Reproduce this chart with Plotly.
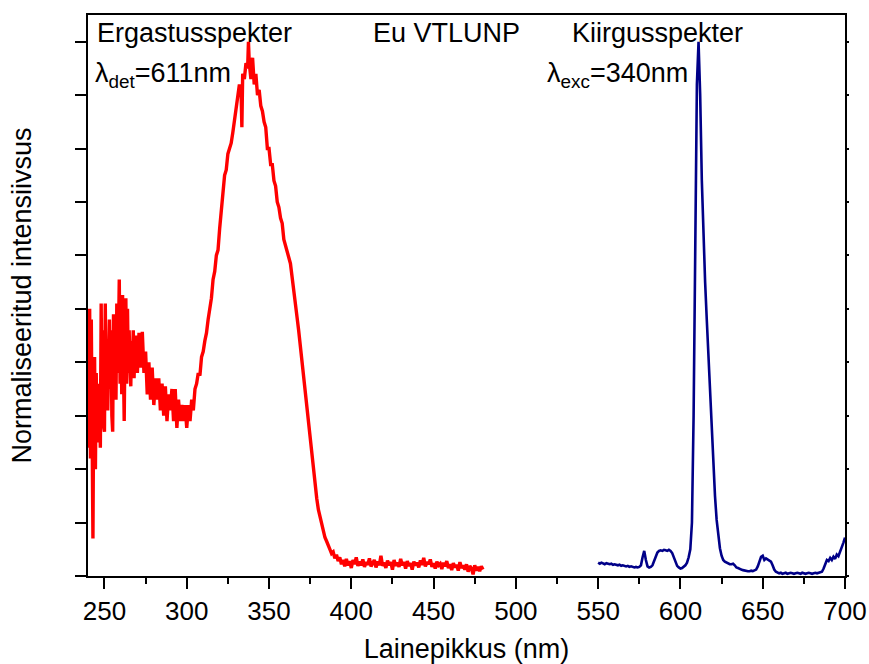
import plotly.graph_objects as go

# ---------------- data ----------------
exc_wl = [
    240.0, 240.5, 241.0, 241.5, 242.0, 242.5, 243.0, 243.5, 244.0, 244.5,
    245.0, 245.5, 246.0, 246.5, 247.0, 247.5, 248.0, 248.5, 249.0, 249.5,
    250.0, 250.5, 251.0, 251.5, 252.0, 252.5, 253.0, 253.5, 254.0, 254.5,
    255.0, 255.5, 256.0, 256.5, 257.0, 257.5, 258.0, 258.5, 259.0, 259.5,
    260.0, 260.5, 261.0, 261.5, 262.0, 262.5, 263.0, 263.5, 264.0, 264.5,
    265.0, 265.5, 266.0, 266.5, 267.0, 267.5, 268.0, 268.5, 269.0, 269.5,
    270.0,
    271, 272, 273, 274, 275, 276, 277, 278, 279, 280,
    281, 282, 283, 284, 285, 286, 287, 288, 289, 290,
    291, 292, 293, 294, 295, 296, 297, 298, 299, 300,
    301, 302, 303, 304, 305, 306, 307, 308, 309, 310,
    311, 312, 313, 314, 315, 316, 317, 318, 319, 320,
    321, 322, 323, 324, 325, 326, 327, 328, 329, 330,
    331, 332, 333, 333.5, 334, 335, 336, 337, 337.5, 338, 339, 340,
    341, 342, 343, 344, 345, 346, 347, 348, 349, 350,
    351, 352, 353, 354, 355, 356, 357, 358, 359, 360,
    361, 362, 363, 364, 365, 366, 367, 368, 369, 370,
    371, 372, 373, 374, 375, 376, 377, 378, 379, 380,
    381, 382, 383, 384, 385, 386, 387, 388, 389, 390,
    391, 392, 393, 394, 395, 396, 397, 398, 399, 400,
    401, 402, 403, 404, 405, 406, 407, 408, 409, 410,
    411, 412, 413, 414, 415, 416, 417, 418, 419, 420,
    421, 422, 423, 424, 425, 426, 427, 428, 429, 430,
    431, 432, 433, 434, 435, 436, 437, 438, 439, 440,
    441, 442, 443, 444, 445, 446, 447, 448, 449, 450,
    451, 452, 453, 454, 455, 456, 457, 458, 459, 460,
    461, 462, 463, 464, 465, 466, 467, 468, 469, 470,
    471, 472, 473, 474, 475, 476, 477, 478, 479, 480,
]
exc_int = [
    0.45, 0.24, 0.50, 0.22, 0.48, 0.30, 0.07, 0.35, 0.41, 0.20,
    0.38, 0.25, 0.36, 0.27, 0.33, 0.24, 0.51, 0.30, 0.46, 0.28,
    0.27, 0.51, 0.33, 0.44, 0.31, 0.40, 0.48, 0.35, 0.46, 0.30,
    0.27, 0.49, 0.36, 0.45, 0.33, 0.51, 0.38, 0.44, 0.555, 0.36,
    0.50, 0.34, 0.526, 0.40, 0.29, 0.45, 0.52, 0.36, 0.50, 0.38,
    0.46, 0.40, 0.355, 0.44, 0.39, 0.46, 0.37, 0.43, 0.40, 0.45,
    0.38,
    0.455, 0.39, 0.457, 0.38, 0.42, 0.34, 0.40, 0.33, 0.39, 0.32,
    0.37, 0.33, 0.37, 0.31, 0.36, 0.30, 0.355, 0.29, 0.34, 0.31,
    0.35, 0.29, 0.35, 0.277, 0.33, 0.29, 0.32, 0.29, 0.32, 0.277,
    0.32, 0.29, 0.33, 0.31, 0.35, 0.36, 0.38, 0.375, 0.41, 0.42,
    0.44, 0.455, 0.48, 0.50, 0.52, 0.555, 0.57, 0.60, 0.61, 0.65,
    0.69, 0.73, 0.75, 0.76, 0.79, 0.80, 0.81, 0.83, 0.85, 0.87,
    0.89, 0.92, 0.91, 0.84, 0.94, 0.93, 0.96, 0.95, 1.00, 0.96, 0.93, 0.97,
    0.92, 0.94, 0.90, 0.91, 0.88, 0.87, 0.85, 0.84, 0.80, 0.80,
    0.77, 0.77, 0.74, 0.73, 0.70, 0.69, 0.67, 0.66, 0.63, 0.62,
    0.61, 0.60, 0.585, 0.56, 0.53, 0.51, 0.485, 0.46, 0.43, 0.40,
    0.37, 0.34, 0.31, 0.28, 0.25, 0.22, 0.195, 0.17, 0.145, 0.124,
    0.11, 0.095, 0.085, 0.072, 0.065, 0.055, 0.05, 0.042, 0.045, 0.033,
    0.04, 0.028, 0.035, 0.022, 0.03, 0.018, 0.032, 0.02, 0.028, 0.015,
    0.03, 0.022, 0.035, 0.019, 0.027, 0.02, 0.031, 0.017, 0.026, 0.021,
    0.033, 0.018, 0.024, 0.03, 0.016, 0.027, 0.02, 0.038, 0.019, 0.025,
    0.015, 0.029, 0.02, 0.026, 0.012, 0.03, 0.019, 0.025, 0.017, 0.032,
    0.02, 0.026, 0.014, 0.028, 0.019, 0.024, 0.012, 0.027, 0.02, 0.025,
    0.016, 0.029, 0.021, 0.034, 0.018, 0.026, 0.022, 0.031, 0.017, 0.024,
    0.014, 0.027, 0.02, 0.023, 0.013, 0.025, 0.018, 0.028, 0.015, 0.022,
    0.011, 0.024, 0.016, 0.021, 0.01, 0.026, 0.015, 0.02, 0.012, 0.022,
    0.008, 0.019, 0.014, 0.003, 0.02, 0.01, 0.017, 0.009, 0.018, 0.012,
]

em_wl = [
    550, 551, 552, 553, 554, 555, 556, 557, 558, 559,
    560, 561, 562, 563, 564, 565, 566, 567, 568, 569,
    570, 571, 572, 573, 574, 575, 576, 577, 578, 579,
    580, 581, 582, 583, 584, 585, 586, 587, 588, 589,
    590, 591, 592, 593, 594, 595, 596, 597, 598, 599,
    600, 601, 602, 603, 604, 605, 606, 607, 608, 609,
    610, 611, 612, 613, 614, 615, 616, 617, 618, 619,
    620, 621, 622, 623, 624, 625, 626, 627, 628, 629,
    630, 631, 632, 633, 634, 635, 636, 637, 638, 639,
    640, 641, 642, 643, 644, 645, 646, 647, 648, 649,
    650, 651, 652, 653, 654, 655, 656, 657, 658, 659,
    660, 661, 662, 663, 664, 665, 666, 667, 668, 669,
    670, 671, 672, 673, 674, 675, 676, 677, 678, 679,
    680, 681, 682, 683, 684, 685, 686, 687, 688, 689,
    690, 691, 692, 693, 694, 695, 696, 697, 698, 699,
    700,
]
em_int = [
    0.025, 0.023, 0.025, 0.024, 0.022, 0.024, 0.023, 0.022, 0.023, 0.021,
    0.022, 0.021, 0.020, 0.021, 0.019, 0.020, 0.019, 0.018, 0.019, 0.017,
    0.018, 0.017, 0.016, 0.017, 0.016, 0.017, 0.020, 0.035, 0.047, 0.030,
    0.018, 0.016, 0.017, 0.020, 0.028, 0.038, 0.044, 0.047, 0.048, 0.047,
    0.049, 0.048, 0.047, 0.049, 0.047, 0.043, 0.035, 0.025, 0.019, 0.016,
    0.014, 0.015, 0.017, 0.020, 0.025, 0.035, 0.050, 0.100, 0.300, 0.650,
    0.920, 1.000, 0.900, 0.740, 0.630, 0.550, 0.480, 0.410, 0.330, 0.260,
    0.200, 0.150, 0.105, 0.075, 0.052, 0.038, 0.030, 0.027, 0.025, 0.024,
    0.022, 0.022, 0.023, 0.020, 0.016, 0.015, 0.013, 0.012, 0.011, 0.010,
    0.010, 0.009, 0.009, 0.010, 0.009, 0.010, 0.012, 0.018, 0.028, 0.036,
    0.038, 0.030, 0.033, 0.031, 0.030, 0.027, 0.020, 0.012, 0.008, 0.006,
    0.005, 0.006, 0.004, 0.005, 0.006, 0.004, 0.005, 0.006, 0.005, 0.004,
    0.005, 0.006, 0.005, 0.004, 0.006, 0.005, 0.004, 0.005, 0.006, 0.005,
    0.004, 0.005, 0.006, 0.005, 0.006, 0.007, 0.008, 0.014, 0.022, 0.030,
    0.028, 0.034, 0.030, 0.036, 0.032, 0.040, 0.037, 0.045, 0.052, 0.062,
    0.072,
]

x_ticks = [250, 300, 350, 400, 450, 500, 550, 600, 650, 700]
x_labels = ["250", "300", "350", "400", "450", "500", "550", "600", "650", "700"]

# ---------------- figure ----------------
FONT = "Liberation Sans, Arial, sans-serif"
fig = go.Figure()

fig.add_trace(go.Scatter(
    x=exc_wl, y=exc_int, mode="lines", xaxis="x", yaxis="y",
    line=dict(color="#FF0000", width=3.4), hoverinfo="skip", showlegend=False,
))
fig.add_trace(go.Scatter(
    x=em_wl, y=em_int, mode="lines", xaxis="x", yaxis="y2",
    line=dict(color="#000088", width=2.6), hoverinfo="skip", showlegend=False,
))

XR = [240, 700]
YR = [0, 1.05]

fig.update_layout(
    width=869, height=664,
    margin=dict(l=88, r=24, t=15, b=88, autoexpand=False),
    paper_bgcolor="white", plot_bgcolor="white",
    font=dict(family=FONT, size=26, color="black"),
    xaxis=dict(
        range=XR, showgrid=False, zeroline=False,
        showline=True, linecolor="black", linewidth=2, mirror=True,
        tickmode="array", tickvals=x_ticks, ticktext=x_labels,
        ticks="outside", ticklen=11, tickwidth=2, tickcolor="black",
        tickfont=dict(size=26, family=FONT),
        minor=dict(dtick=25, tick0=0, ticks="outside", ticklen=6, tickwidth=2, tickcolor="black"),
        title=dict(text="Lainepikkus (nm)", font=dict(size=27, family=FONT), standoff=24),
    ),
    yaxis=dict(
        range=YR, showgrid=False, zeroline=False,
        showline=True, linecolor="black", linewidth=2, mirror=True,
        tick0=0, dtick=0.1, ticks="outside", ticklen=11, tickwidth=2, tickcolor="black",
        showticklabels=False,
        title=dict(text="Normaliseeritud intensiivsus", font=dict(size=27, family=FONT), standoff=36),
    ),
    yaxis2=dict(
        range=YR, overlaying="y", side="right", anchor="x", showgrid=False, zeroline=False,
        showline=False, showticklabels=False, automargin=False,
        tick0=0, dtick=0.1, ticks="outside", ticklen=3, tickwidth=2, tickcolor="black",
    ),
)

W, H = 757.0, 561.0
def px(xp):
    return (xp - 88) / W
def py(yp):
    return (576 - yp) / H

ann = [
    ("Ergastusspekter", 95, 33),
    ("λ<sub>det</sub>=611nm", 93, 75),
    ("Eu VTLUNP", 371, 33),
    ("Kiirgusspekter", 570, 33),
    ("λ<sub>exc</sub>=340nm", 545, 75),
]
for text, xp, yp in ann:
    fig.add_annotation(
        text=text, xref="paper", yref="paper", x=px(xp), y=py(yp),
        xanchor="left", yanchor="middle", showarrow=False,
        font=dict(size=27, family=FONT, color="black"),
    )

fig.write_html("out.html")
